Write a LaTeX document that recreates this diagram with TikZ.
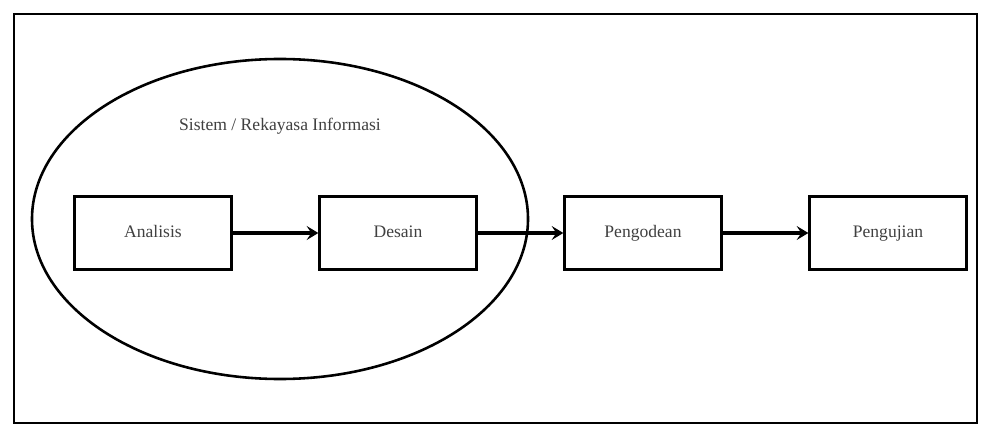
\documentclass[tikz,border=0pt]{standalone}
\usepackage{fontspec}
\setmainfont{Liberation Serif}
\usetikzlibrary{arrows.meta,positioning,shapes.geometric}

\begin{document}
\begin{tikzpicture}[x=0.03cm, y=-0.03cm,
    phase/.style={rectangle, draw, line width=2pt, minimum width=4.71cm, minimum height=2.19cm, text height=10pt, text depth=3pt, font=\fontsize{15}{17}\selectfont, text=black!75},
    flow/.style={-{Stealth[length=10pt, width=12pt, inset=4pt]}, line width=3pt}
]
    \useasboundingbox (0,0) rectangle (987,427);
    % Outer frame
    \draw[line width=2.4pt] (14,14) rectangle (977,423);

    % Scope of system / information engineering
    \node[ellipse, draw, line width=2.2pt, minimum width=14.88cm, minimum height=9.6cm] (sys) at (280,219) {};
    \node[font=\fontsize{15}{17}\selectfont, text=black!75] (syslabel) at (280,126) {Sistem / Rekayasa Informasi};

    % Phases
    \node[phase] (analisis) at (153,233) {Analisis};
    \node[phase] (desain) at (398,233) {Desain};
    \node[phase] (kode) at (643,233) {Pengodean};
    \node[phase] (uji) at (888,233) {Pengujian};

    % Arrows between phases
    \draw[flow] (analisis) -- (desain);
    \draw[flow] (desain) -- (kode);
    \draw[flow] (kode) -- (uji);
\end{tikzpicture}
\end{document}
